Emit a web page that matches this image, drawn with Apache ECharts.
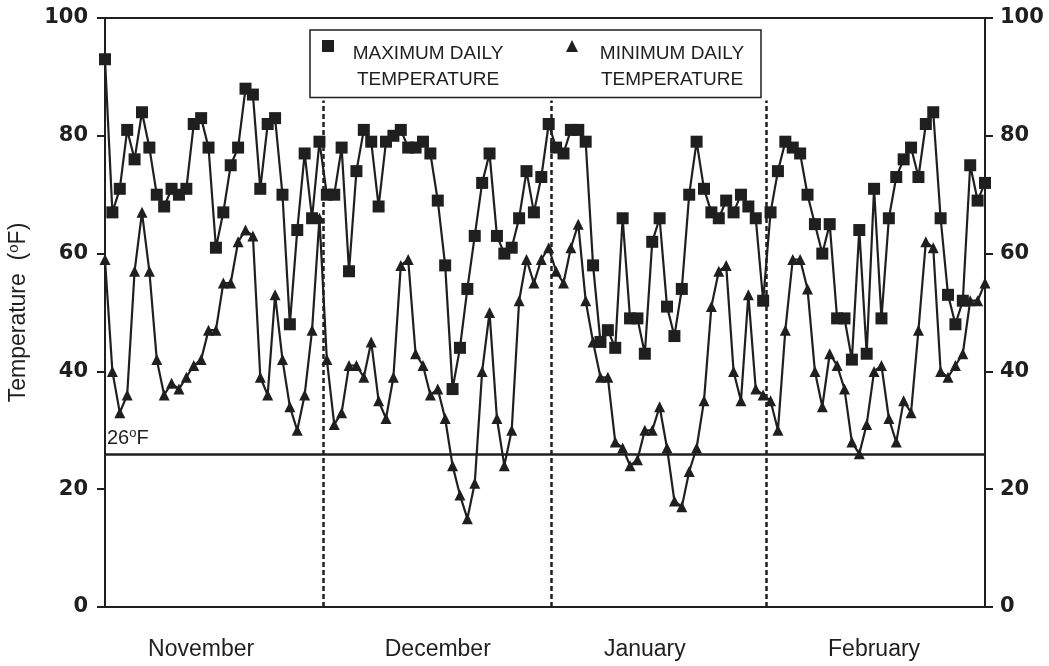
<!DOCTYPE html>
<html>
<head>
<meta charset="utf-8">
<script src="https://cdn.jsdelivr.net/npm/echarts@6/dist/echarts.min.js"></script>
<style>
  html, body { margin: 0; padding: 0; background: #fff; }
  #chart { width: 1049px; height: 666px; }
</style>
</head>
<body>
<div id="chart"></div>
<script>
// Daily temperatures, 1 November to 28 February (one value per day)
const maxTemp = [
  93,67,71,81,76,84,78,70,68,71,70,71,82,83,78,61,67,75,78,88,87,71,82,83,70,48,64,77,66,79,
  70,70,78,57,74,81,79,68,79,80,81,78,78,79,77,69,58,37,44,54,63,72,77,63,60,61,66,74,67,73,82,
  78,77,81,81,79,58,45,47,44,66,49,49,43,62,66,51,46,54,70,79,71,67,66,69,67,70,68,66,52,67,
  74,79,78,77,70,65,60,65,49,49,42,64,43,71,49,66,73,76,78,73,82,84,66,53,48,52,75,69,72
];
const minTemp = [
  59,40,33,36,57,67,57,42,36,38,37,39,41,42,47,47,55,55,62,64,63,39,36,53,42,34,30,36,47,66,
  42,31,33,41,41,39,45,35,32,39,58,59,43,41,36,37,32,24,19,15,21,40,50,32,24,30,52,59,55,59,61,
  57,55,61,65,52,45,39,39,28,27,24,25,30,30,34,27,18,17,23,27,35,51,57,58,40,35,53,37,36,35,
  30,47,59,59,54,40,34,43,41,37,28,26,31,40,41,32,28,35,33,47,62,61,40,39,41,43,52,52,55
];
// Month names and the day position each name sits under
const monthNames = ['November', 'December', 'January', 'February'];
const monthLabelDay = [13, 45, 73, 104];
// Month boundaries (day position of the dashed separators)
const monthBreaks = [29.5, 60.3, 89.4];
const freezeLine = 26;
const yTicks = [0, 20, 40, 60, 80, 100];

const ink = '#1f1f1f';
const font = 'Liberation Sans, Arial, sans-serif';
const boldFont = 'DejaVu Sans, Liberation Sans, sans-serif';

const toPairs = arr => arr.map((v, i) => [i, v]);

const labelMap = {};
monthLabelDay.forEach((d, k) => { labelMap[d] = monthNames[k]; });

const yAxisBase = {
  type: 'value',
  min: yTicks[0],
  max: yTicks[yTicks.length - 1],
  interval: 20,
  splitLine: { show: false },
  axisLine: { show: true, lineStyle: { color: ink, width: 2 } },
  axisTick: { show: true, inside: false, length: 8, lineStyle: { color: ink, width: 2 } },
  axisLabel: { color: ink, fontFamily: boldFont, fontWeight: 'bold', fontSize: 21 }
};

const chart = echarts.init(document.getElementById('chart'), null, { renderer: 'canvas' });
chart.setOption({
  backgroundColor: '#fff',
  animation: false,
  grid: {
    left: 105, right: 64, top: 18, bottom: 59,
    outerBoundsMode: 'none',
    containLabel: false,
    show: true, borderColor: ink, borderWidth: 2, backgroundColor: 'transparent'
  },
  legend: {
    left: 310, top: 30,
    padding: [10, 0, 8, 12],
    borderColor: ink, borderWidth: 1.5,
    itemGap: 49,
    itemWidth: 12, itemHeight: 12,
    data: [
      { name: 'MAXIMUM DAILY\nTEMPERATURE', icon: 'rect' },
      { name: 'MINIMUM DAILY\nTEMPERATURE', icon: 'triangle' }
    ],
    formatter: name => name.split('\n').map(s => '{t|' + s + '}').join('\n'),
    textStyle: {
      color: ink, fontFamily: font, fontSize: 19,
      padding: [42, 0, 0, 0],
      rich: { t: { width: 178, align: 'center', lineHeight: 26, fontSize: 19, fontFamily: font, color: ink } }
    }
  },
  xAxis: {
    type: 'value',
    min: 0, max: maxTemp.length - 1, interval: 1,
    splitLine: { show: false },
    axisLine: { show: true, lineStyle: { color: ink, width: 2 } },
    axisTick: { show: false },
    axisLabel: {
      margin: 31, color: ink, fontFamily: font, fontSize: 23,
      showMinLabel: true, showMaxLabel: true,
      formatter: v => labelMap[v] || ''
    }
  },
  yAxis: [
    Object.assign({}, yAxisBase, {
      position: 'left',
      name: 'Temperature  ({s|o}F)',
      nameLocation: 'middle', nameGap: 74, nameRotate: 90,
      nameTextStyle: {
        color: ink, fontFamily: font, fontSize: 23,
        rich: { s: { fontSize: 15, verticalAlign: 'top', padding: [0, 0, 10, 0], fontFamily: font, color: ink } }
      },
      axisLabel: Object.assign({}, yAxisBase.axisLabel, { margin: 17 })
    }),
    Object.assign({}, yAxisBase, {
      position: 'right',
      axisLabel: Object.assign({}, yAxisBase.axisLabel, { margin: 15 })
    })
  ],
  series: [
    {
      name: 'MAXIMUM DAILY\nTEMPERATURE',
      type: 'line',
      data: toPairs(maxTemp),
      symbol: 'rect', symbolSize: 12,
      lineStyle: { color: ink, width: 2.2 },
      itemStyle: { color: ink },
      z: 3
    },
    {
      name: 'MINIMUM DAILY\nTEMPERATURE',
      type: 'line',
      data: toPairs(minTemp),
      symbol: 'triangle', symbolSize: 11,
      lineStyle: { color: ink, width: 2.2 },
      itemStyle: { color: ink },
      z: 3,
      markLine: {
        silent: true,
        symbol: 'none',
        animation: false,
        data: [
          [
            { coord: [0, freezeLine], lineStyle: { type: 'solid', width: 2.5, color: ink },
              label: {
                show: true, position: 'insideStartTop', distance: [2, 4],
                formatter: freezeLine + '{s|o}F',
                color: ink, fontFamily: font, fontSize: 20,
                rich: { s: { fontSize: 13, verticalAlign: 'top', padding: [0, 0, 10, 0], fontFamily: font, color: ink } }
              } },
            { coord: [maxTemp.length - 1, freezeLine] }
          ]
        ].concat(monthBreaks.map(d => [
          { coord: [d, 0], lineStyle: { type: [5, 3], width: 2.5, color: ink }, label: { show: false } },
          { coord: [d, 86] }
        ]))
      }
    }
  ]
});
</script>
</body>
</html>
